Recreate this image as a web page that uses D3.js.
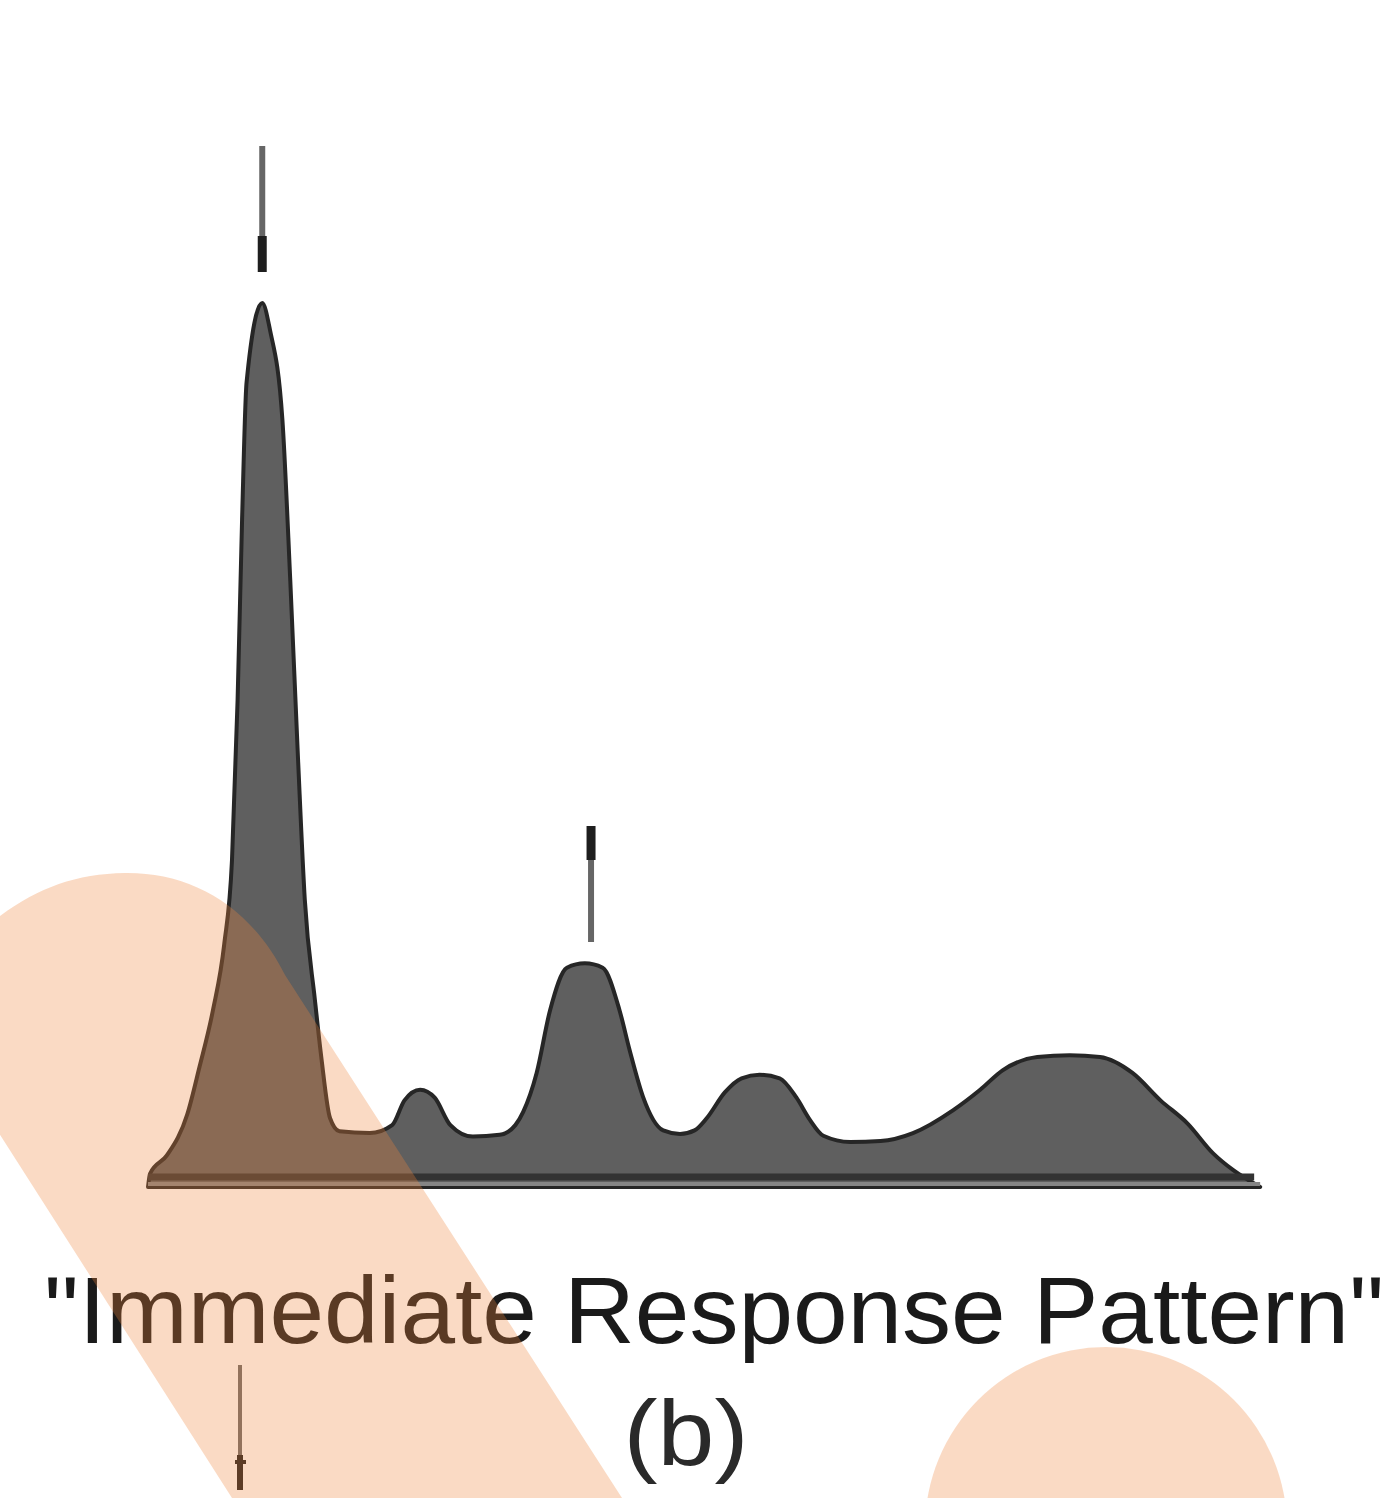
<!DOCTYPE html>
<html>
<head>
<meta charset="utf-8">
<script src="https://cdn.jsdelivr.net/npm/d3@7"></script>
<style>
  html, body { margin: 0; padding: 0; background: #ffffff; }
  svg { display: block; }
</style>
</head>
<body>
<svg id="chart" width="1396" height="1498"></svg>
<script>
// Response profile over time (relative units)
const times = [0, 0.18, 1.7, 3.5, 4.6, 5.8, 6.8, 7.5, 8.0, 8.4, 8.8, 10.2, 10.9, 12.0, 12.7, 13.4, 14.0, 14.9, 15.5, 16.25, 17.1, 19.8, 21.8, 22.9, 24.3, 25.6, 27.0, 29.0, 31.4, 32.8, 33.5, 34.7, 35.9, 37.4, 39.0, 40.6, 42.1, 43.0, 44.2, 46.0, 47.5, 48.8, 49.9, 51.5, 53.0, 54.6, 56.4, 57.9, 59.1, 60.3, 62.7, 65.4, 68.3, 71.9, 74.3, 76.3, 79.4, 82.3, 85.0, 87.9, 90.4, 92.8, 95.1, 96.9, 99.3];
const response = [0, 1.5, 3.6, 8.2, 13.6, 20.0, 27.4, 37.0, 55.1, 75.5, 91.0, 100, 96.9, 86.8, 68.7, 48.3, 32.5, 21.2, 14.4, 7.8, 6.3, 6.1, 7.0, 9.8, 11.0, 10.1, 7.0, 5.7, 5.9, 7.0, 8.5, 12.9, 20.0, 24.8, 25.3, 24.8, 20.0, 15.5, 10.2, 6.4, 6.0, 6.4, 7.8, 10.7, 12.3, 12.7, 12.3, 10.1, 7.6, 5.8, 5.1, 5.2, 6.1, 8.7, 11.0, 13.2, 14.7, 14.9, 14.7, 12.9, 9.8, 7.2, 3.8, 1.9, 0];

// Moments marked with arrows: the main spike and the secondary peak
const markerTimes = [10.2, 39.2];

const titleText = "\"Immediate Response Pattern\"";
const panelLabel = "(b)";

const svg = d3.select("#chart");

const x = d3.scaleLinear().domain([0, 100]).range([148, 1268]);
const y = d3.scaleLinear().domain([0, 100]).range([1187, 303]);

const data = times.map((t, i) => ({ t, v: response[i] }));

// Filled response curve
const area = d3.area()
  .x(d => x(d.t))
  .y0(y(0))
  .y1(d => y(d.v))
  .curve(d3.curveMonotoneX);

svg.append("path")
  .datum(data)
  .attr("d", area)
  .attr("fill", "#5f5f5f")
  .attr("stroke", "#262626")
  .attr("stroke-width", 4)
  .attr("stroke-linejoin", "round");

// Baseline band
const xEnd = x(times[times.length - 1]);
svg.append("line")
  .attr("x1", x(0)).attr("x2", xEnd - 6)
  .attr("y1", y(0) - 10).attr("y2", y(0) - 10)
  .attr("stroke", "#333333").attr("stroke-width", 7);
svg.append("line")
  .attr("x1", x(0)).attr("x2", xEnd)
  .attr("y1", y(0) - 3).attr("y2", y(0) - 3)
  .attr("stroke", "#858585").attr("stroke-width", 4);

// Arrows above the main and secondary peaks
function arrow(cx, yShaftA, yShaftB, yHeadA, yHeadB, shaftW, headW) {
  svg.append("line")
    .attr("x1", cx).attr("x2", cx)
    .attr("y1", yShaftA).attr("y2", yShaftB)
    .attr("stroke", "#666666").attr("stroke-width", shaftW);
  svg.append("line")
    .attr("x1", cx).attr("x2", cx)
    .attr("y1", yHeadA).attr("y2", yHeadB)
    .attr("stroke", "#1e1e1e").attr("stroke-width", headW);
}
arrow(x(markerTimes[0]), 146, 240, 236, 272, 6, 9);
arrow(x(markerTimes[1]) + 4, 856, 942, 826, 860, 6, 9);

// Title and panel label
svg.append("text")
  .attr("x", 714).attr("y", 1343)
  .attr("text-anchor", "middle")
  .attr("font-family", "'Liberation Sans', Arial, sans-serif")
  .attr("font-size", 94)
  .attr("fill", "#1a1a1a")
  .attr("textLength", 1340)
  .attr("lengthAdjust", "spacingAndGlyphs")
  .text(titleText);

svg.append("text")
  .attr("x", 686).attr("y", 1465)
  .attr("text-anchor", "middle")
  .attr("font-family", "'Liberation Sans', Arial, sans-serif")
  .attr("font-size", 92)
  .attr("fill", "#2a2a2a")
  .attr("textLength", 125)
  .attr("lengthAdjust", "spacingAndGlyphs")
  .text(panelLabel);

// Small arrow below the title
svg.append("line")
  .attr("x1", 240).attr("x2", 240).attr("y1", 1365).attr("y2", 1458)
  .attr("stroke", "#6a6a6a").attr("stroke-width", 4);
svg.append("line")
  .attr("x1", 240).attr("x2", 240).attr("y1", 1455).attr("y2", 1490)
  .attr("stroke", "#1e1e1e").attr("stroke-width", 6);
svg.append("line")
  .attr("x1", 235).attr("x2", 246).attr("y1", 1462).attr("y2", 1462)
  .attr("stroke", "#1e1e1e").attr("stroke-width", 4);

// Translucent highlight shapes laid over the figure
const highlight = svg.append("g")
  .attr("fill", "rgb(238,132,58)")
  .attr("fill-opacity", 0.3);

highlight.append("path")
  .attr("d", "M -40 1072 L 232 1498 L 622 1498 L 285 975 " +
             "C 250 905 190 872 125 873 C 60 874 15 898 -40 950 Z");

highlight.append("circle")
  .attr("cx", 1106).attr("cy", 1528).attr("r", 181);
</script>
</body>
</html>
